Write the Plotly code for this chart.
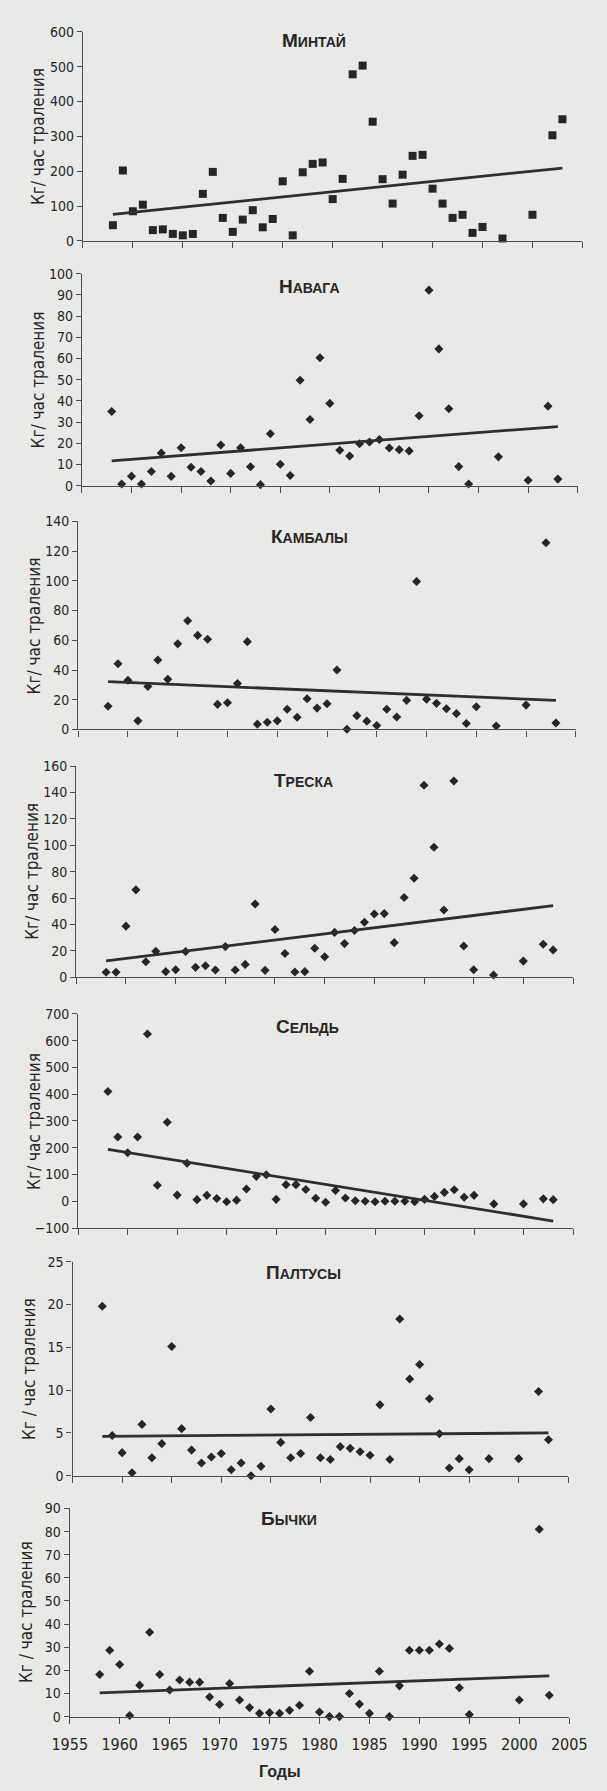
import plotly.graph_objects as go

W, H = 607, 1791

years = [1958, 1959, 1960, 1961, 1962, 1963, 1964, 1965, 1966, 1967,
         1968, 1969, 1970, 1971, 1972, 1973, 1974, 1975, 1976, 1977,
         1978, 1979, 1980, 1981, 1982, 1983, 1984, 1985, 1986, 1987,
         1988, 1989, 1990, 1991, 1992, 1993, 1994, 1995,
         1997, 2000, 2002, 2003]
trend_years = [1958, 2003]

mintai = [45, 202, 85, 104, 31, 33, 20, 16, 20, 135,
          198, 66, 26, 61, 88, 39, 63, 171, 16, 197,
          221, 225, 120, 178, 478, 503, 342, 177, 107, 190,
          244, 247, 150, 107, 66, 75, 23, 40,
          7, 75, 303, 349]
mintai_trend = [76, 209]

navaga = [35, 0.8, 4.5, 0.8, 6.7, 15.4, 4.4, 17.9, 8.7, 6.7,
          2.2, 19.2, 5.8, 17.9, 8.9, 0.5, 24.5, 10.1, 4.8, 49.7,
          31.2, 60.3, 38.8, 16.7, 14, 19.8, 20.6, 21.8, 17.8, 17,
          16.4, 33, 92.2, 64.5, 36.3, 9, 0.8, -1,
          13.6, 2.6, 37.5, 3.1]
navaga_trend = [11.7, 27.9]

kambaly = [15.6, 44.2, 33.1, 5.8, 28.9, 46.7, 33.8, 57.6, 73.1, 63.3,
           60.7, 16.9, 18, 30.9, 59.1, 3.6, 4.9, 5.8, 13.6, 8.2,
           20.7, 14.4, 17.3, 40, 0.2, 9.3, 5.6, 2.7, 13.6, 8.4,
           19.6, 99.6, 20.4, 17.6, 14, 10.7, 4, 15.3,
           2.4, 16.4, 125.6, 4.4]
kambaly_trend = [32.2, 19.6]

treska = [3.75, 3.75, 38.75, 66.25, 11.75, 19.75, 4.25, 5.75, 19.5, 7.5,
          8.75, 5.5, 23.25, 5.5, 9.75, 55.5, 5.25, 36.25, 18, 4,
          4.25, 22, 15.5, 34, 25.5, 35.5, 41.75, 48, 48.25, 26.25,
          60.5, 75, 145.5, 98.5, 51, 148.75, 23.75, 5.75,
          1.75, 12.25, 25, 20.75]
treska_trend = [12.5, 54.25]

seld = [410, 240, 181, 240, 625, 60, 295, 23, 142, 6,
        22, 10, -2, 4, 46, 93, 99, 7, 62, 62,
        44, 11, -4, 40, 12, 2, 0, -2, 0, 0,
        0, -2, 7, 18, 33, 43, 15, 22,
        -10, -10, 9, 6]
seld_trend = [194, -74]

paltusy = [19.8, 4.7, 2.7, 0.35, 6.0, 2.1, 3.75, 15.1, 5.5, 3.0,
           1.5, 2.2, 2.6, 0.7, 1.5, 0, 1.1, 7.8, 3.9, 2.1,
           2.6, 6.8, 2.1, 1.9, 3.4, 3.2, 2.8, 2.4, 8.3, 1.9,
           18.3, 11.3, 13.0, 9.0, 4.9, 0.9, 2.0, 0.7,
           2.0, 2.0, 9.85, 4.2]
paltusy_trend = [4.6, 5.0]

bychki = [18.2, 28.7, 22.5, 0.5, 13.6, 36.5, 18.2, 11.5, 15.8, 14.9,
          14.9, 8.5, 5.2, 14.3, 7.2, 3.9, 1.4, 1.7, 1.4, 2.7,
          4.9, 19.6, 2.0, 0, 0, 10, 5.4, 1.4, 19.6, 0,
          13.3, 28.7, 28.7, 28.7, 31.4, 29.5, 12.5, 0.9,
          -1.5, 7.2, 81, 9.2]
bychki_trend = [10.3, 17.6]

titles = [("М", "ИНТАЙ"), ("Н", "АВАГА"), ("К", "АМБАЛЫ"), ("Т", "РЕСКА"),
          ("С", "ЕЛЬДЬ"), ("П", "АЛТУСЫ"), ("Б", "ЫЧКИ")]
ytitles = ["Кг/ час траления"] * 5 + ["Кг / час траления"] * 2
series = [mintai, navaga, kambaly, treska, seld, paltusy, bychki]
trends = [mintai_trend, navaga_trend, kambaly_trend, treska_trend,
          seld_trend, paltusy_trend, bychki_trend]
y_ranges = [(0, 600, 100), (0, 100, 10), (0, 140, 20), (0, 160, 20),
            (-100, 700, 100), (0, 25, 5), (0, 90, 10)]
x_ticks = [1955, 1960, 1965, 1970, 1975, 1980, 1985, 1990, 1995, 2000, 2005]
symbols = ["square"] + ["diamond"] * 6

# layout in pixels (left, right, top, bottom)
boxes = [(69, 600, 24, 235), (68, 595, 268, 482), (64, 593, 518, 728),
         (62, 590, 765, 978), (64, 590, 1015, 1231), (58, 585, 1265, 1481),
         (55, 586, 1514, 1724)]
title_pos = [(315, 33), (310, 281), (310, 533), (304, 779), (308, 1028),
             (304, 1276), (288, 1524)]

BG = "#e9e9e7"
INK = "#262626"
AX = "#4d4d4d"
NARROW = "Liberation Sans Narrow, Arial Narrow, DejaVu Sans Condensed, Liberation Sans, sans-serif"
SANS = "Liberation Sans, Arial, sans-serif"

fig = go.Figure()
annotations = []
layout = dict(width=W, height=H, autosize=False,
              margin=dict(l=0, r=0, t=0, b=0),
              paper_bgcolor=BG, plot_bgcolor=BG, showlegend=False)

for i in range(7):
    n = i + 1
    xa = "x" if n == 1 else f"x{n}"
    ya = "y" if n == 1 else f"y{n}"
    l, r, t, b = boxes[i]
    ymin, ymax, dt = y_ranges[i]
    fig.add_trace(go.Scatter(x=years, y=series[i], mode="markers",
                             marker=dict(symbol=symbols[i], size=8 if i == 0 else 7,
                                         color=INK, line=dict(width=0)),
                             cliponaxis=False, xaxis=xa, yaxis=ya))
    fig.add_trace(go.Scatter(x=trend_years, y=trends[i], mode="lines",
                             line=dict(color="#2e2e2e", width=2.8),
                             cliponaxis=False, xaxis=xa, yaxis=ya))
    last = (i == 6)
    layout["xaxis" if n == 1 else f"xaxis{n}"] = dict(
        domain=[l / W, r / W], range=[1955, 2005], anchor=ya,
        tickvals=x_ticks, ticks="outside", ticklen=6, tickcolor=AX, tickwidth=1.2,
        showline=True, linecolor=AX, linewidth=1.3, showgrid=False, zeroline=False,
        showticklabels=last, ticklabelstandoff=7,
        tickfont=dict(family=NARROW, size=16, color=INK))
    yvals = list(range(ymin, ymax + 1, dt))
    layout["yaxis" if n == 1 else f"yaxis{n}"] = dict(
        domain=[1 - b / H, 1 - t / H], range=[ymin, ymax], anchor=xa,
        tickvals=yvals, ticks="outside", ticklen=5, tickcolor=AX, tickwidth=1.2,
        showline=True, linecolor=AX, linewidth=1.3, showgrid=False, zeroline=False,
        tickfont=dict(family=NARROW, size=14, color=INK))
    tx, ty = title_pos[i]
    big, small = titles[i]
    annotations.append(dict(
        x=tx / W, y=1 - ty / H, xref="paper", yref="paper", showarrow=False,
        xanchor="center", yanchor="middle",
        text=f"<b>{big}<span style='font-size:14px'>{small}</span></b>",
        font=dict(family=SANS, size=19, color=INK)))
    annotations.append(dict(
        x=(l - 47) / W, y=1 - (t + b) / 2 / H, xref="paper", yref="paper",
        showarrow=False, xanchor="center", yanchor="middle", textangle=-90,
        text=ytitles[i], font=dict(family=NARROW, size=17, color=INK)))

annotations.append(dict(x=279 / W, y=1 - 1779 / H, xref="paper", yref="paper",
                        showarrow=False, xanchor="center", yanchor="middle",
                        text="<b>Годы</b>", font=dict(family=SANS, size=16, color=INK)))
layout["annotations"] = annotations
fig.update_layout(**layout)
fig.write_html("out.html")
